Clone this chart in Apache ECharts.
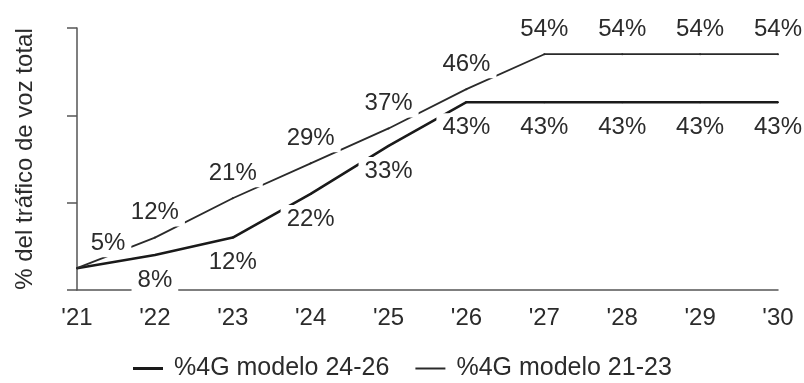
<!DOCTYPE html>
<html>
<head>
<meta charset="utf-8">
<script src="https://cdn.jsdelivr.net/npm/echarts@6/dist/echarts.min.js"></script>
<style>
  html, body { margin: 0; padding: 0; background: #fff; }
  #chart { width: 804px; height: 383px; }
</style>
</head>
<body>
<div id="chart"></div>
<script>
// Years on the horizontal axis
const years = ["'21", "'22", "'23", "'24", "'25", "'26", "'27", "'28", "'29", "'30"];
// Share of 4G voice traffic (%) per handset model group
const model2426 = [5, 8, 12, 22, 33, 43, 43, 43, 43, 43];
const model2123 = [5, 12, 21, 29, 37, 46, 54, 54, 54, 54];
const seriesNames = ['%4G modelo 24-26', '%4G modelo 21-23'];
const axisTitle = '% del tráfico de voz total';

const FONT = '"Liberation Sans", Arial, sans-serif';
const INK = '#2b2b2b';

const baseLabel = {
  show: true,
  formatter: '{c}%',
  fontFamily: FONT,
  fontSize: 24,
  color: INK,
  backgroundColor: '#fff',
  padding: [2, 6]
};

// Lower curve: labels under the points, the first one is shared with the upper curve
const lowerData = model2426.map((v, i) => i === 0 ? { value: v, label: { show: false } } : v);
// Upper curve: first label nudged right, clear of the vertical axis
const upperData = model2123.map((v, i) => i === 0 ? { value: v, label: { offset: [31, 0] } } : v);

// Legend keys are plain strokes: a thicker one and a thinner one
const legendItems = [
  { name: seriesNames[0], icon: 'path://M0,0H30V3H0Z', itemStyle: { color: '#1a1a1a' } },
  { name: seriesNames[1], icon: 'path://M0,0H30V2H0Z', itemStyle: { color: '#2a2a2a' } }
];

const chart = echarts.init(document.getElementById('chart'), null, { renderer: 'canvas' });
chart.setOption({
  animation: false,
  backgroundColor: '#fff',
  grid: { left: 77, right: 26, top: 28, bottom: 93 },
  legend: {
    data: legendItems,
    left: 128,
    top: 351,
    itemWidth: 30,
    itemHeight: 14,
    itemGap: 26,
    textStyle: { fontFamily: FONT, fontSize: 25, color: INK, padding: [0, 0, 0, 6] }
  },
  xAxis: {
    type: 'category',
    data: years,
    boundaryGap: false,
    axisLine: { lineStyle: { color: '#555', width: 1.5 } },
    axisTick: { show: false },
    axisLabel: { fontFamily: FONT, fontSize: 24, color: INK, margin: 16 }
  },
  yAxis: {
    type: 'value',
    min: 0,
    max: 60,
    interval: 20,
    name: axisTitle,
    nameLocation: 'middle',
    nameRotate: 90,
    nameGap: 40,
    nameTextStyle: { fontFamily: FONT, fontSize: 24, color: INK },
    axisLine: { show: true, lineStyle: { color: '#555', width: 1.5 } },
    axisTick: { show: true, length: 10, lineStyle: { color: '#555', width: 1.5 } },
    axisLabel: { show: false },
    splitLine: { show: false }
  },
  series: [
    {
      name: seriesNames[0],
      type: 'line',
      data: lowerData,
      symbol: 'circle',
      symbolSize: 2,
      itemStyle: { color: '#1a1a1a' },
      lineStyle: { color: '#1a1a1a', width: 2.6 },
      label: Object.assign({}, baseLabel, { position: 'bottom', distance: 10 })
    },
    {
      name: seriesNames[1],
      type: 'line',
      data: upperData,
      symbol: 'circle',
      symbolSize: 2,
      itemStyle: { color: '#2a2a2a' },
      lineStyle: { color: '#2a2a2a', width: 1.8 },
      label: Object.assign({}, baseLabel, { position: 'top', distance: 10 })
    }
  ]
});
</script>
</body>
</html>
